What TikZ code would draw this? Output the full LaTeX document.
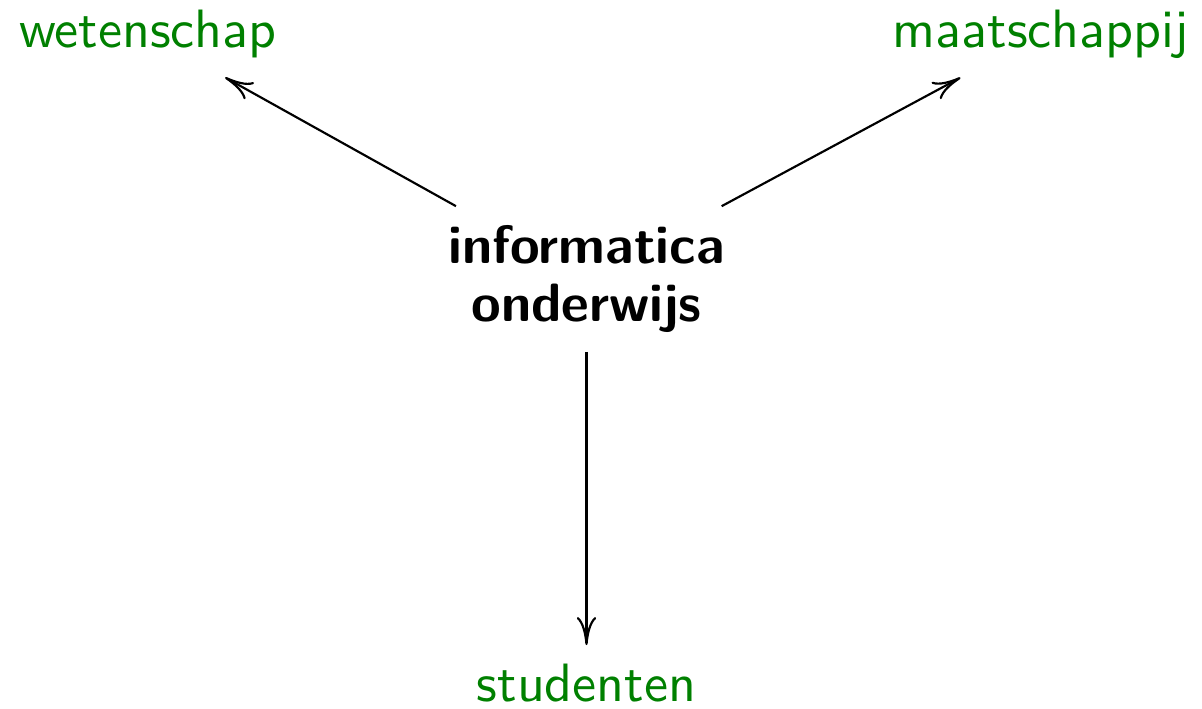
\documentclass[tikz,border=0pt]{standalone}
\usepackage{tikz}
\usetikzlibrary{arrows.meta}

\begin{document}
\begin{tikzpicture}[x=0.6509cm, y=0.6509cm, >={To[length=5.2pt,width=3.6pt]},
  kant/.style={font=\sffamily, text=green!50!black},
  kern/.style={font=\sffamily\bfseries\fontsize{10}{10.8}\selectfont, align=center}]
\useasboundingbox (0,0) rectangle (12.02,7.09);
% midden
\node[kern] (io) at (5.865,4.30) {informatica\\onderwijs};
% drie kanten
\node[kant, anchor=base] (wet) at (1.48,6.61) {wetenschap};
\node[kant, anchor=base] (maat) at (10.41,6.615) {maatschappij};
\node[kant, anchor=base] (stud) at (5.865,0.073) {studenten};
\draw[->] (io) -- (wet);
\draw[->] (io) -- (maat);
\draw[->] (io) -- (stud);
\end{tikzpicture}
\end{document}
